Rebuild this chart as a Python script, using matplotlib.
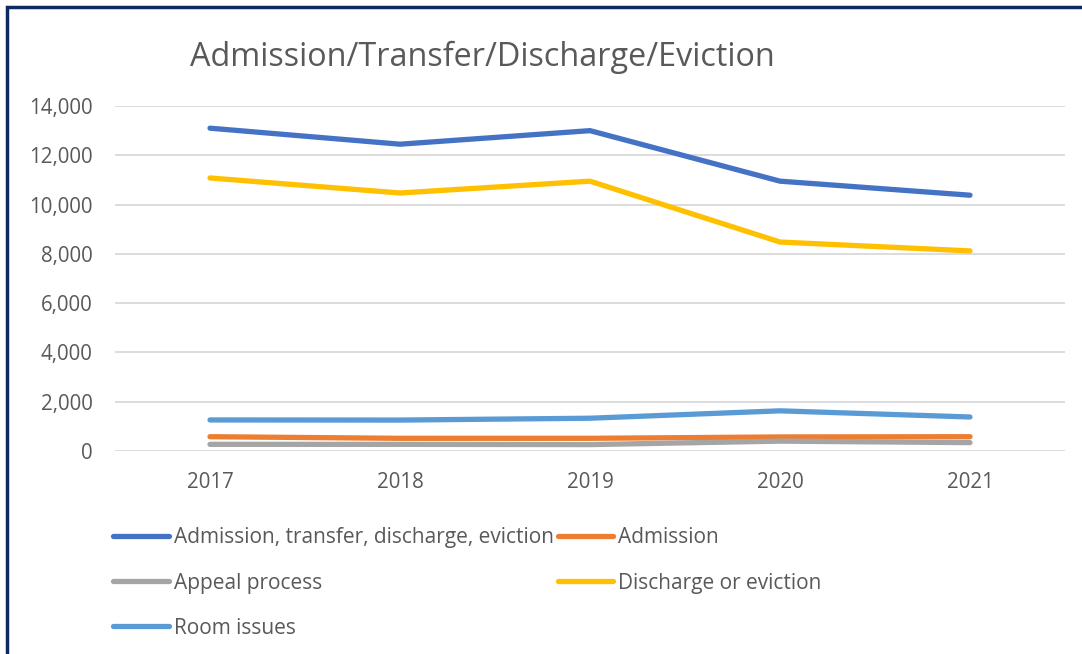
import matplotlib
matplotlib.use("Agg")
import matplotlib.pyplot as plt
from matplotlib.patches import Rectangle
from matplotlib.ticker import FuncFormatter

plt.rcParams['font.family'] = ['Open Sans', 'DejaVu Sans']

years = ["2017", "2018", "2019", "2020", "2021"]
total = [13100, 12450, 13000, 10950, 10380]
admission = [580, 515, 515, 570, 580]
appeal = [270, 270, 260, 400, 340]
discharge = [11080, 10470, 10950, 8480, 8120]
room = [1260, 1255, 1330, 1630, 1380]

names = ["Admission, transfer, discharge, eviction", "Admission", "Appeal process",
         "Discharge or eviction", "Room issues"]
colors = ["#4472C4", "#ED7D31", "#A5A5A5", "#FFC000", "#5B9BD5"]

fig = plt.figure(figsize=(10.82, 6.54), dpi=100)
ax = fig.add_axes([115/1082, 1-451/654, 950/1082, 345/654])
x = list(range(len(years)))
series = [total, admission, appeal, discharge, room]
lines = []
for vals, nm, c in zip(series, names, colors):
    ln, = ax.plot(x, vals, color=c, lw=3.8, solid_capstyle='round', label=nm)
    lines.append(ln)

ax.set_xlim(-0.5, 4.5)
ax.set_ylim(0, 14000)
ax.set_yticks(range(0, 14001, 2000))
ax.yaxis.set_major_formatter(FuncFormatter(lambda v, p: f"{int(v):,}"))
ax.set_xticks(x)
ax.set_xticklabels(years)
ax.grid(axis='y', color='#D9D9D9', lw=1.3)
ax.set_axisbelow(True)
for s in ax.spines.values():
    s.set_visible(False)
ax.tick_params(length=0, labelsize=14.8, colors='#595959')
ax.tick_params(axis='x', pad=15)
ax.tick_params(axis='y', pad=16)

fig.text(190/1082, 1-57/654, "Admission/Transfer/Discharge/Eviction", fontsize=23.3,
         color='#595959', va='center', ha='left')

order = [0, 2, 4, 1, 3]
fig.legend([lines[i] for i in order], [names[i] for i in order], ncol=2,
           loc='upper left', bbox_to_anchor=(105/1082, 1-519/654), frameon=False,
           fontsize=15, labelcolor='#595959', handlelength=2.65, handletextpad=0.25,
           columnspacing=0.2, labelspacing=1.16, borderaxespad=0)

fig.patches.append(Rectangle((7/1082, -0.05), 1.2, 1-7/654+0.05, transform=fig.transFigure,
                             fill=False, edgecolor='#0F2A5C', lw=2.5))

fig.savefig("out.png", dpi=100)
